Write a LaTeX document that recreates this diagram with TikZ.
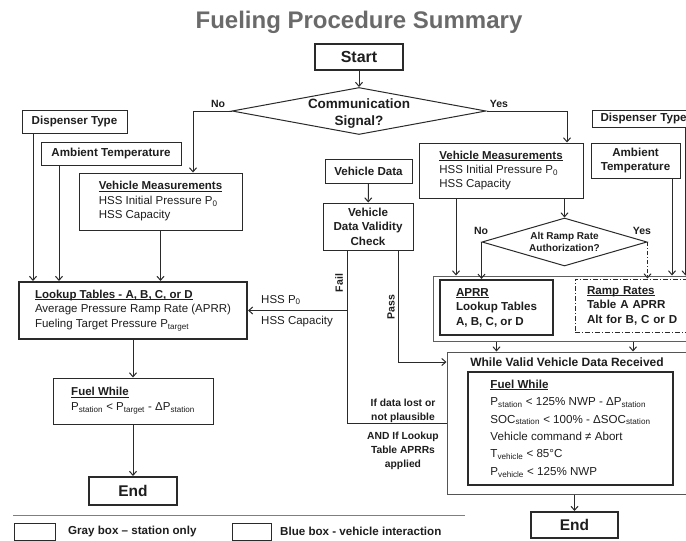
\documentclass[tikz,border=0pt]{standalone}
\usepackage{fontspec}
\setmainfont{Liberation Sans}
\usetikzlibrary{shapes.geometric,arrows.meta}
\definecolor{ink}{HTML}{2A2A2A}
\definecolor{txt}{HTML}{1E1E1E}
\definecolor{ttl}{HTML}{6A6A6A}
\newcommand{\myul}[1]{\leavevmode\setbox0\hbox{#1}\rlap{\rule[-1.6pt]{\wd0}{0.7pt}}\box0}
\tikzset{
  every node/.style={text=txt},
  box/.style={draw=ink, line width=1pt, fill=white, inner sep=0pt},
  thickbox/.style={box, line width=2pt},
  bold/.style={font=\fontsize{11.6}{13}\selectfont\bfseries},
  body/.style={font=\fontsize{11.5}{14.5}\selectfont},
  arr/.style={draw=ink, line width=1pt, -{Straight Barb[length=4pt,width=7pt,line width=1pt]}},
  conn/.style={draw=ink, line width=1pt},
  lbl/.style={font=\fontsize{10.5}{12}\selectfont\bfseries, inner sep=0pt},
  note/.style={font=\fontsize{10.3}{13.8}\selectfont\bfseries, align=center, inner sep=0pt},
}
\begin{document}
\begin{tikzpicture}[x=1pt, y=-1pt]
\clip (0,0) rectangle (686,541);
\fill[white] (0,0) rectangle (686,541);

% title
\node[font=\fontsize{24}{28}\selectfont\bfseries, text=ttl] (title) at (359,22) {Fueling Procedure Summary};

% top
\node[thickbox, minimum width=88pt, minimum height=26pt, font=\fontsize{16}{18}\selectfont\bfseries] (start) at (359,57) {Start};
\node[diamond, draw=ink, line width=1pt, fill=white, minimum width=254pt, minimum height=47pt, inner sep=0pt, aspect=5.4,
  label={[align=center, font=\fontsize{13.5}{17.5}\selectfont\bfseries, yshift=-2.5pt]center:Communication\\Signal?}] (comm) at (359,111) {};

% left side
\node[box, bold, minimum width=105pt, minimum height=23pt] (dispL) at (74.5,121.5) {Dispenser Type};
\node[box, bold, minimum width=140pt, minimum height=23pt] (ambL) at (111,153.5) {Ambient Temperature};
\node[box, body, minimum width=163pt, minimum height=57pt, align=left] (vmL) at (160.5,201.5) {\textbf{\myul{Vehicle Measurements}}\\HSS Initial Pressure P\textsubscript{0}\\HSS Capacity};
\node[thickbox, body, minimum width=228pt, minimum height=57pt, align=left] (lookup) at (133,310.5) {\textbf{\myul{Lookup Tables - A, B, C, or D}}\\Average Pressure Ramp Rate (APRR)\\Fueling Target Pressure P\textsubscript{target}};
\node[box, font=\fontsize{11.5}{15}\selectfont, minimum width=160pt, minimum height=46pt, align=left] (fuelL) at (133,401) {\textbf{\myul{Fuel While}}\\P\textsubscript{station} < P\textsubscript{target} - ΔP\textsubscript{station}};
\node[thickbox, minimum width=88pt, minimum height=28pt, font=\fontsize{15.5}{17}\selectfont\bfseries] (endL) at (133,491) {End};

% middle
\node[box, bold, minimum width=87pt, minimum height=24pt] (vdata) at (368.5,171) {Vehicle Data};
\node[box, align=center, minimum width=90pt, minimum height=47pt, font=\fontsize{11.6}{14.5}\selectfont\bfseries] (valid) at (368,226.5) {Vehicle\\Data Validity\\Check};
\node[font=\fontsize{11.5}{13}\selectfont, anchor=west, inner sep=0pt] (hssp) at (261,300) {HSS P\textsubscript{0}};
\node[font=\fontsize{11.5}{13}\selectfont, anchor=west, inner sep=0pt] (hsscap) at (261,322) {HSS Capacity};

% right side
\node[box, bold, text width=96pt, align=left, inner xsep=8pt, minimum height=17pt, anchor=west] (dispR) at (592,118.5) {Dispenser Type};
\node[box, font=\fontsize{11.5}{14}\selectfont, minimum width=164pt, minimum height=55pt, align=left] (vmR) at (501,170.5) {\textbf{\myul{Vehicle Measurements}}\\HSS Initial Pressure P\textsubscript{0}\\HSS Capacity};
\node[box, align=center, minimum width=89pt, minimum height=35pt, font=\fontsize{11.6}{14}\selectfont\bfseries] (ambR) at (635.5,160.5) {Ambient\\Temperature};
\node[diamond, draw=ink, line width=1pt, fill=white, minimum width=165pt, minimum height=48pt, inner sep=0pt, aspect=3.4, align=center, font=\fontsize{10}{12.5}\selectfont\bfseries] (alt) at (564.5,242) {Alt Ramp Rate\\Authorization?};

\node[draw=ink!75, line width=1pt, minimum width=287pt, minimum height=65pt, inner sep=0pt] (cont) at (576.5,308.5) {};
\node[thickbox, line width=2.2pt, minimum width=113pt, minimum height=55pt, align=left, font=\fontsize{11.6}{14.5}\selectfont\bfseries] (aprr) at (496.5,307.5) {\myul{APRR}\\Lookup Tables\\A, B, C, or D};
\node[draw=ink, line width=1pt, dash pattern=on 5pt off 2pt on 1pt off 2pt, minimum height=53pt, text width=121pt, inner xsep=12pt, inner ysep=0pt, align=left, font=\fontsize{11.6}{14.5}\selectfont\bfseries] (ramp) at (647.5,305.5) {\myul{Ramp Rates}\\Table A APRR\\Alt for B, C or D};

\node[box, draw=ink!80, minimum width=273pt, minimum height=142pt] (whileB) at (583.5,423) {};
\node[font=\fontsize{12}{14}\selectfont\bfseries] (whiletitle) at (567,362) {While Valid Vehicle Data Received};
\node[thickbox, minimum width=205pt, minimum height=113pt, align=left, font=\fontsize{11.6}{17.4}\selectfont] (fuelR) at (570.5,428.5) {\textbf{\myul{Fuel While}}\\P\textsubscript{station} < 125\% NWP - ΔP\textsubscript{station}\\SOC\textsubscript{station} < 100\% - ΔSOC\textsubscript{station}\\Vehicle command ≠ Abort\\T\textsubscript{vehicle} < 85°C\\P\textsubscript{vehicle} < 125\% NWP};
\node[thickbox, minimum width=87pt, minimum height=26pt, font=\fontsize{15.5}{17}\selectfont\bfseries] (endR) at (574.5,525) {End};

% labels
\node[lbl] (noL) at (218,104) {No};
\node[lbl] (yesL) at (499,104) {Yes};
\node[lbl, rotate=90] (failL) at (339,283) {Fail};
\node[lbl, rotate=90] (passL) at (391,307) {Pass};
\node[lbl] (noA) at (481,231) {No};
\node[lbl] (yesA) at (642,231) {Yes};
\node[note] (lost) at (403,410.5) {If data lost or\\not plausible};
\node[note] (andif) at (403,451) {AND If Lookup\\Table APRRs\\applied};

% coordinates for offset connectors
\coordinate (dlx) at ([xshift=-41.5pt]dispL.south);
\coordinate (alx) at ([xshift=-52pt]ambL.south);
\coordinate (failtop) at ([xshift=-21pt]valid.south);
\coordinate (passtop) at ([xshift=30pt]valid.south);
\coordinate (vrx) at ([xshift=-45pt]vmR.south);
\coordinate (arx) at ([xshift=36.5pt]ambR.south);
\coordinate (drx) at ([xshift=37pt]dispR.south);
\coordinate (rmx) at ([xshift=-14.5pt]ramp.south);

% connectors
\draw[arr] (start) -- (comm);
\draw[arr] (comm.west) -| ([xshift=32.5pt]vmL.north);
\draw[arr] (comm.east) -| ([xshift=66pt]vmR.north);
\draw[arr] (dlx) -- (dlx |- lookup.north);
\draw[arr] (alx) -- (alx |- lookup.north);
\draw[arr] (vmL.south) -- (vmL.south |- lookup.north);
\draw[arr] (lookup) -- (fuelL);
\draw[arr] (fuelL) -- (endL);
\draw[arr] (vdata) -- (valid);
\draw[conn] (failtop) |- (whileB.west);
\draw[arr] (failtop |- lookup.east) -- (lookup.east);
\draw[arr] (passtop) |- (whiletitle -| whileB.west);
\draw[arr] (vrx) -- (vrx |- cont.north);
\draw[arr] (vmR.south -| alt.north) -- (alt.north);
\draw[arr] (alt.west) -- (alt.west |- aprr.north);
\draw[arr, dash pattern=on 4pt off 2pt on 1pt off 2pt] (alt.east) -- (alt.east |- ramp.north);
\draw[arr] (arx) -- (arx |- cont.north);
\draw[arr] (drx) -- (drx |- cont.north);
\draw[arr] (aprr.south |- cont.south) -- (aprr.south |- whileB.north);
\draw[arr] (rmx |- cont.south) -- (rmx |- whileB.north);
\draw[arr] (whileB.south -| endR.north) -- (endR.north);

% legend
\draw[draw=ink!60, line width=0.8pt] (13,515) -- (465,515);
\node[box, minimum width=41pt, minimum height=17pt] (legG) at (34.5,531.5) {};
\node[bold, anchor=west, inner sep=0pt] (legGt) at (68,531) {Gray box – station only};
\node[box, minimum width=39pt, minimum height=17pt] (legB) at (251.5,531.5) {};
\node[bold, anchor=west, inner sep=0pt] (legBt) at (280,531) {Blue box - vehicle interaction};
\end{tikzpicture}
\end{document}
